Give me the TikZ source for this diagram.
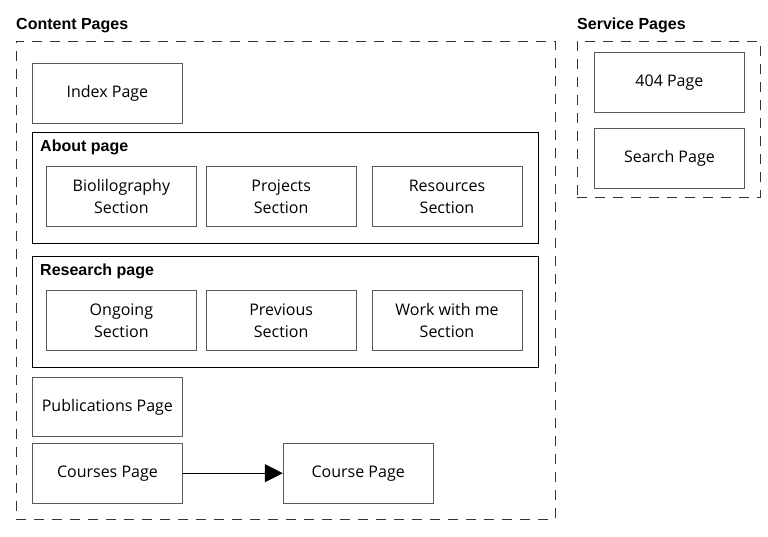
\documentclass[tikz,border=0pt]{standalone}
\usepackage{fontspec}
\setmainfont{Open Sans}
\newfontfamily\titlefont{Liberation Sans}
\usetikzlibrary{positioning,arrows.meta}

\begin{document}
\begin{tikzpicture}
[x=1pt, y=-1pt, node distance=9pt,
 page/.style={draw=black!65, line width=0.8pt, minimum width=150pt, minimum height=60pt,
   inner sep=0pt, align=center, font=\fontsize{16}{22}\selectfont},
 group/.style={draw=black, line width=1.2pt, inner sep=0pt},
 container/.style={draw=black!80, line width=0.9pt, dash pattern=on 10pt off 8pt, inner sep=0pt},
 heading/.style={font=\titlefont\bfseries\fontsize{16}{18}\selectfont, inner sep=0pt}]
\useasboundingbox (0,0) rectangle (768,537);

% containers
\node[container, minimum width=539pt, minimum height=478pt, anchor=north west] (content) at (16,41) {};
\node[heading, anchor=base west] (contentlbl) at (16,30) {Content Pages};
\node[container, minimum width=183pt, minimum height=156pt, anchor=north west] (service) at (577,41) {};
\node[heading, anchor=base west] (servicelbl) at (577,30) {Service Pages};

% content pages
\node[page, anchor=north west] (index) at (32,63) {Index Page};

\node[group, minimum width=506pt, minimum height=111pt, anchor=north west] (about) at (32,132) {};
\node[heading, anchor=base west] (aboutlbl) at (40,152) {About page};
\node[page, anchor=north west] (biblio) at (46,166) {Biolilography\\Section};
\node[page, right=of biblio] (projects) {Projects\\Section};
\node[page, right=15pt of projects] (resources) {Resources\\Section};

\node[group, minimum width=506pt, minimum height=111pt, anchor=north west] (research) at (32,256) {};
\node[heading, anchor=base west] (researchlbl) at (40,276) {Research page};
\node[page, anchor=north west] (ongoing) at (46,290) {Ongoing\\Section};
\node[page, right=of ongoing] (previous) {Previous\\Section};
\node[page, right=15pt of previous] (workwith) {Work with me\\Section};

\node[page, anchor=north west, minimum height=59pt] (publications) at (32,377) {Publications Page};
\node[page, below=6pt of publications] (courses) {Courses Page};
\node[page, right=100pt of courses] (course) {Course Page};
\draw[line width=1.2pt, -{Triangle[length=18pt,width=18pt]}] (courses) -- (course);

% service pages
\node[page, anchor=north west] (notfound) at (594,52) {404 Page};
\node[page, below=15pt of notfound] (search) {Search Page};
\end{tikzpicture}
\end{document}
